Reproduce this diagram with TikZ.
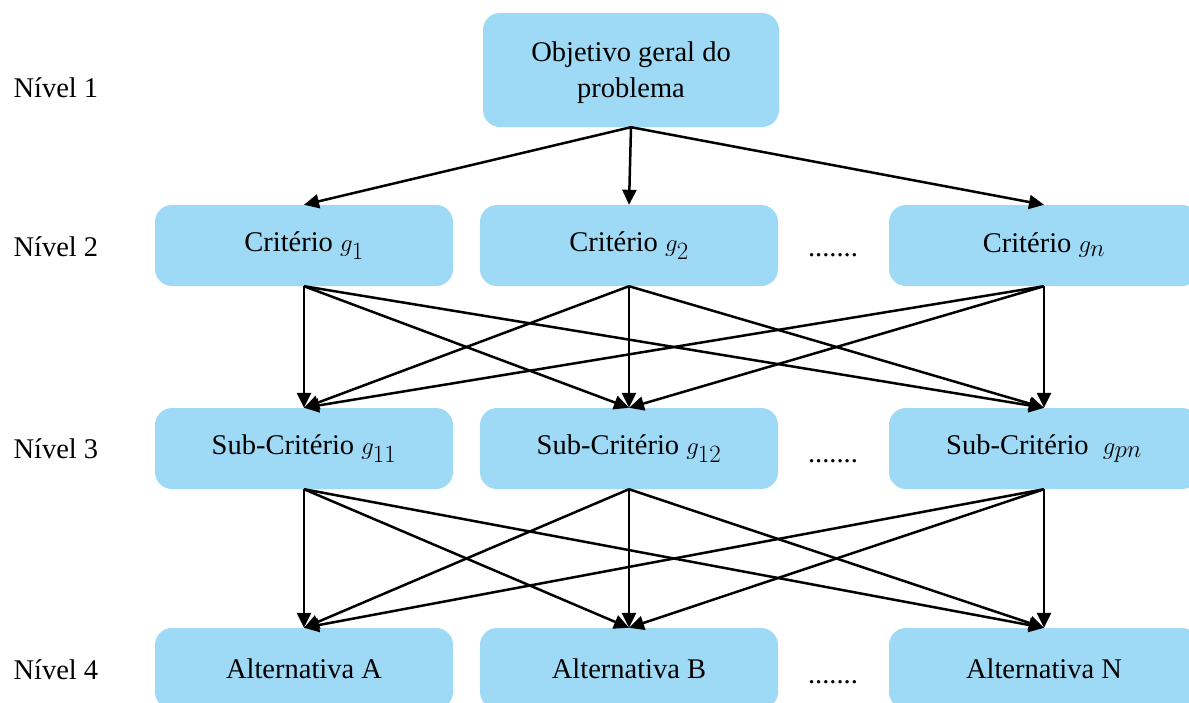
\documentclass[tikz,border=0pt]{standalone}
\usepackage{fontspec}
\setmainfont{Liberation Serif}
\usetikzlibrary{arrows.meta}
\definecolor{boxblue}{RGB}{158,218,246}
% criterion symbol, set a little larger than the surrounding text
\newcommand{\gsym}[1]{{\fontsize{33}{36}\selectfont$g_{#1}$}}
\begin{document}
\begin{tikzpicture}[x=1pt,y=-1pt,
  font=\fontsize{28.5}{36}\selectfont,
  box/.style={fill=boxblue, rounded corners=17pt, inner sep=0pt, align=center},
  wide/.style={minimum width=298pt, minimum height=81pt},
  level/.style={anchor=west},
  link/.style={line width=2.5pt, -{Triangle[length=15pt,width=14pt]}},
  dots/.style={anchor=base}]
\useasboundingbox (0,0) rectangle (1189,702);

% level 1: box and its two-line caption
\node[box, minimum width=296pt, minimum height=114pt] (goal) at (631,70) {};
\node[align=center, inner sep=0pt] (goaltext) at (631,73) {Objetivo geral do\\problema};

% level 2
\node[box, wide] (c1) at (304,245.5) {Crit\'erio \gsym{1}};
\node[box, wide] (c2) at (629,245.5) {Crit\'erio \gsym{2}};
\node[box, minimum width=310pt, minimum height=81pt] (c3) at (1044,245.5) {Crit\'erio \gsym{n}};

% level 3
\node[box, wide] (s1) at (304,448.5) {Sub-Crit\'erio \gsym{11}};
\node[box, wide] (s2) at (629,448.5) {Sub-Crit\'erio \gsym{12}};
\node[box, minimum width=310pt, minimum height=81pt] (s3) at (1044,448.5) {Sub-Crit\'erio\ \ \gsym{pn}};

% level 4
\node[box, wide] (a1) at (304,668.5) {Alternativa A};
\node[box, wide] (a2) at (629,668.5) {Alternativa B};
\node[box, minimum width=310pt, minimum height=81pt] (a3) at (1044,668.5) {Alternativa N};

% level labels
\node[level] (n1) at (10,88) {N\'ivel 1};
\node[level] (n2) at (10,247) {N\'ivel 2};
\node[level] (n3) at (10,449) {N\'ivel 3};
\node[level] (n4) at (10,670) {N\'ivel 4};

% ellipses between boxes
\node[dots] (d2) at (833,256) {.......};
\node[dots] (d3) at (833,462) {.......};
\node[dots] (d4) at (833,683) {.......};

% connectors
\foreach \t in {c1,c2,c3} \draw[link] (goal.south) -- (\t.north);
\foreach \s in {c1,c2,c3} \foreach \t in {s1,s2,s3} \draw[link] (\s.south) -- (\t.north);
\foreach \s in {s1,s2,s3} \foreach \t in {a1,a2,a3} \draw[link] (\s.south) -- (\t.north);
\end{tikzpicture}
\end{document}
